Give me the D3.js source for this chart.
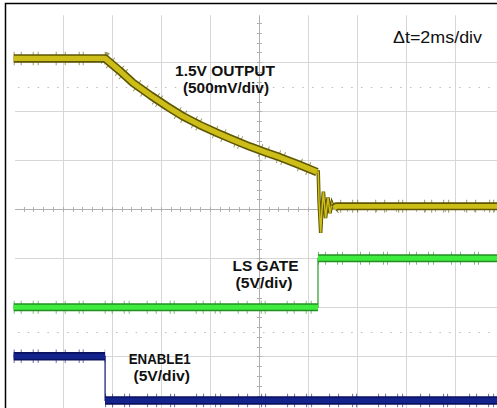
<!DOCTYPE html>
<html>
<head>
<meta charset="utf-8">
<script src="https://cdn.jsdelivr.net/npm/d3@7"></script>
<style>
  body { margin: 0; background: #fff; }
  svg { display: block; }
  text { font-family: "Liberation Sans", Arial, sans-serif; fill: #111; }
  .lbl { font-weight: bold; font-size: 15px; }
</style>
</head>
<body>
<div id="scope"></div>
<script>
/*  Scope capture: 1.5V output shutdown, LS gate and ENABLE1  */

// time axis, ms (10 div x 2 ms)
var timeTicks = [0, 2, 4, 6, 8, 10, 12, 14, 16, 18, 20];

// channel 1 : 1.5V output (500mV/div)
var outTime  = [0, 3.73, 4.3, 4.87, 5.6, 6.26, 6.9, 7.6, 8.3, 8.95, 9.64, 10.3, 10.87, 11.6, 12.38,
                12.43, 12.46, 12.53, 12.58, 12.64, 12.69, 12.73, 12.79, 12.83, 12.91, 12.99, 13.07, 13.16, 20];
var outVolts = [1.54, 1.54, 1.42, 1.29, 1.16, 1.05, 0.95, 0.86, 0.78, 0.71, 0.64, 0.58, 0.53, 0.46, 0.38,
                0.38, 0.10, -0.24, -0.01, 0.18, 0.04, -0.09, 0.04, 0.12, -0.04, 0.06, 0.01, 0.03, 0.03];

// channel 2 : LS gate (5V/div)
var gateTime  = [0, 12.42, 12.42, 20];
var gateVolts = [0, 0, 5.0, 5.0];

// channel 3 : ENABLE1 (5V/div)
var enTime  = [0, 3.73, 3.73, 20];
var enVolts = [4.5, 4.5, 0, 0];

var W = 497, H = 408;

var svg = d3.select("#scope").append("svg")
    .attr("width", W)
    .attr("height", H);

var x = d3.scaleLinear().domain([0, 20]).range([13.7, 503.7]);
var y = d3.scaleLinear().domain([-4, 4]).range([405.3, 13.3]);

/* grid */
var grid = svg.append("g").attr("stroke", "#d6d6d6").attr("stroke-width", 1);

grid.selectAll(".vl")
    .data(timeTicks.slice(1, 10).filter(function (t) { return t !== 10; }))
    .enter().append("line")
    .attr("x1", function (d) { return Math.round(x(d)) + 0.5; })
    .attr("x2", function (d) { return Math.round(x(d)) + 0.5; })
    .attr("y1", y(4) + 2)
    .attr("y2", H);

grid.selectAll(".hl")
    .data([-3, -2, -1, 1, 2, 3])
    .enter().append("line")
    .attr("x1", 15)
    .attr("x2", W)
    .attr("y1", function (d) { return Math.round(y(d)) + 0.5; })
    .attr("y2", function (d) { return Math.round(y(d)) + 0.5; });

// dotted cursor lines
svg.selectAll(".dot")
    .data([2.5, -2.5])
    .enter().append("line")
    .attr("x1", 18)
    .attr("x2", W)
    .attr("y1", function (d) { return Math.round(y(d)) + 0.5; })
    .attr("y2", function (d) { return Math.round(y(d)) + 0.5; })
    .attr("stroke", "#bcbcbc")
    .attr("stroke-dasharray", "1.5,8.3");

// center axes with minor ticks
var axis = svg.append("g").attr("stroke", "#b0b0b0").attr("stroke-width", 1);
var cy = Math.round(y(0)) + 0.5, cx = Math.round(x(10)) + 0.5;
axis.append("line").attr("x1", 15).attr("x2", W).attr("y1", cy).attr("y2", cy);
axis.append("line").attr("x1", cx).attr("x2", cx).attr("y1", y(4) + 2).attr("y2", H);
axis.selectAll(".tx")
    .data(d3.range(0.4, 20, 0.4))
    .enter().append("line")
    .attr("x1", function (d) { return Math.round(x(d)) + 0.5; })
    .attr("x2", function (d) { return Math.round(x(d)) + 0.5; })
    .attr("y1", cy - 2.5).attr("y2", cy + 2.5);
axis.selectAll(".ty")
    .data(d3.range(-3.8, 4, 0.2))
    .enter().append("line")
    .attr("y1", function (d) { return Math.round(y(d)) + 0.5; })
    .attr("y2", function (d) { return Math.round(y(d)) + 0.5; })
    .attr("x1", cx - 2.5).attr("x2", cx + 2.5);

/* traces */
function pts(times, volts, vdiv, offset) {
    return times.map(function (t, i) { return [x(t), y(offset + volts[i] / vdiv)]; });
}
var line = d3.line();

function band(p, c, wide) {
    var g = svg.append("g").attr("fill", "none").attr("stroke-linejoin", "round");
    // sparse noise spikes on the trace edges
    g.append("path").attr("d", line(p))
        .attr("stroke", c.edge).attr("stroke-width", wide + 5)
        .attr("stroke-dasharray", "1,6,1,11,1,4,1,17,1,8,1,13,1,3,1,21")
        .attr("opacity", 0.6);
    g.append("path").attr("d", line(p))
        .attr("stroke", c.edge).attr("stroke-width", wide);
    g.append("path").attr("d", line(p))
        .attr("stroke", c.core).attr("stroke-width", wide * 0.62);
}
function thin(p, c, w) {
    svg.append("path").attr("d", line(p))
        .attr("fill", "none").attr("stroke", c).attr("stroke-width", w);
}

var yel = {core: "#cdbd18", edge: "#5e5600"};
var grn = {core: "#3eec3e", edge: "#238f23"};
var blu = {core: "#14228c", edge: "#0a1060"};

// ENABLE1
var en = pts(enTime, enVolts, 5, -3.9);
thin(en, "#0d1670", 1.2);
band(en.slice(0, 2), blu, 8.5);
band(en.slice(2), blu, 8.5);

// LS gate
var gt = pts(gateTime, gateVolts, 5, -2);
thin(gt, "#2a9a2a", 1.2);
band(gt.slice(0, 2), grn, 8);
band(gt.slice(2), grn, 8);

// 1.5V output
var op = pts(outTime, outVolts, 0.5, 0);
var iDrop = outTime.indexOf(12.38), iSettle = outTime.indexOf(13.07);
var ring = op.slice(iDrop, iSettle + 1);
thin(ring, yel.edge, 3.5);
thin(ring, yel.core, 1.5);
band(op.slice(0, iDrop + 1), yel, 8.5);
band(op.slice(iSettle), yel, 8);

/* frame (left / top edges of the capture) */
svg.append("path")
    .attr("d", "M5.5," + H + "V3.5H" + W)
    .attr("fill", "none").attr("stroke", "#000").attr("stroke-width", 1.5);

/* labels */
var labels = svg.append("g").attr("text-anchor", "middle");
function label(txt, cx, by, len) {
    labels.append("text").attr("class", "lbl")
        .attr("x", cx).attr("y", by)
        .attr("textLength", len).attr("lengthAdjust", "spacingAndGlyphs")
        .text(txt);
}
label("1.5V OUTPUT", 225, 76, 100);
label("(500mV/div)", 226, 93, 86);
label("LS GATE", 265.5, 270.5, 66);
label("(5V/div)", 264, 287.5, 57);
label("ENABLE1", 159.7, 363.5, 62);
label("(5V/div)", 161.7, 380.5, 56.5);

svg.append("text")
    .attr("x", 393).attr("y", 43)
    .attr("textLength", 89).attr("lengthAdjust", "spacingAndGlyphs")
    .style("font-size", "16.5px")
    .text("\u0394t=2ms/div");
</script>
</body>
</html>
